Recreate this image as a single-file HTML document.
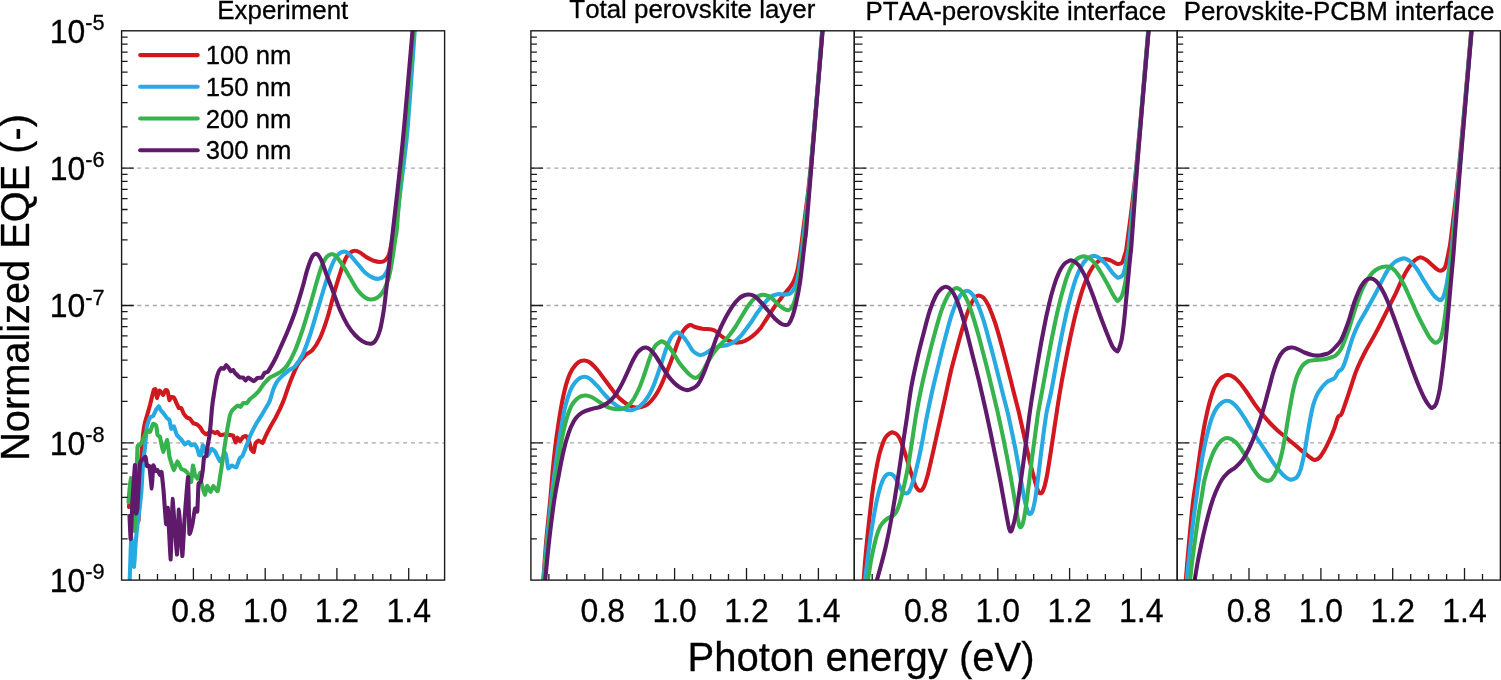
<!DOCTYPE html>
<html lang="en"><head><meta charset="utf-8"><title>Normalized EQE vs photon energy</title>
<style>
html,body{margin:0;padding:0;background:#fff;}
body{width:1501px;height:680px;overflow:hidden;}
svg{display:block;}
text{font-family:"Liberation Sans",sans-serif;fill:#000;font-kerning:none;stroke:#000;stroke-width:0.3px;}
.c{fill:none;stroke-width:4.1;stroke-linejoin:round;stroke-linecap:round;}
.fr{fill:none;stroke:#1c1a1b;stroke-width:1.4;}
.tk{stroke:#1c1a1b;stroke-width:1.3;fill:none;}
.gr{stroke:#a6a8ab;stroke-width:1.3;stroke-dasharray:4 3.82;fill:none;}
.ttl{font-size:25.88px;text-anchor:middle;}
.xl{font-size:33.3px;text-anchor:middle;}
.yl{font-size:33.3px;}
.sup{font-size:22.6px;}
.lg{font-size:25.65px;}
.ax{font-size:40px;}
</style></head><body>
<svg width="1501" height="680" viewBox="0 0 1501 680">
<rect x="0" y="0" width="1501" height="680" fill="#fff"/>
<defs>
<clipPath id="cp0"><rect x="121.6" y="30.8" width="323" height="549.3"/></clipPath>
<clipPath id="cp1"><rect x="530.9" y="30.8" width="323.4" height="549.3"/></clipPath>
<clipPath id="cp2"><rect x="854.3" y="30.8" width="322.9" height="549.3"/></clipPath>
<clipPath id="cp3"><rect x="1177.2" y="30.8" width="323.2" height="549.3"/></clipPath>
</defs>
<g>
<path class="gr" d="M121.6 168.1H444.6"/>
<path class="gr" d="M121.6 305.5H444.6"/>
<path class="gr" d="M121.6 442.8H444.6"/>
<g clip-path="url(#cp0)">
<path class="c" stroke="#d2181f" d="M129 507C129.1 506.4 129.8 498 130 497C130.2 496 131.7 489.8 132 490C132.3 490.2 134.6 498.2 135 500C135.4 501.8 138.2 522.8 138.5 521C138.8 519.2 140.2 475 140.5 470C140.8 465 142.7 437.8 143 435C143.3 432.2 144.7 423.7 145 422.5C145.3 421.3 147.2 414.8 147.5 413.8C147.8 412.7 149.8 405.8 150 405C150.2 404.2 151 400.9 151.2 400C151.5 399.1 153.5 390.6 153.8 390C154 389.4 155.4 388.9 155.6 389.4C155.8 389.9 156.7 397.9 156.9 398C157.1 398.1 159.1 390.9 159.4 390.6C159.7 390.3 161.7 392.7 161.9 393C162.1 393.3 162.9 395.2 163.1 395C163.3 394.8 165.3 390.2 165.6 390C165.9 389.8 167.3 390.4 167.5 391C167.7 391.6 169.2 399.6 169.4 400C169.6 400.4 171 397.1 171.2 397C171.5 396.9 173.5 397.2 173.8 397.5C174 397.8 176 401.9 176.2 402.5C176.5 403.1 178.5 407.7 178.8 408C179 408.3 181 407.7 181.2 408C181.5 408.3 183.4 413.2 183.8 413.8C184.1 414.3 186.5 417.2 186.9 417.5C187.3 417.8 189.6 418.4 190 418.8C190.4 419.1 192.7 422.7 193.1 423C193.5 423.3 196.5 424.1 196.9 424.4C197.3 424.7 200 427.1 200.3 427.5C200.6 427.9 202.2 430.8 202.5 431.2C202.8 431.7 205.7 434.4 206.2 434.4C206.8 434.4 210.7 431.3 211.2 431.2C211.8 431.2 214.6 433.1 215 433.1C215.4 433.1 217.2 431.8 217.5 431.9C217.8 432 219.6 434.9 220 435C220.4 435.1 224.4 434.4 225 434.4C225.6 434.4 229.5 434.9 230 435C230.5 435.1 232.8 435.2 233.1 435.6C233.4 436 235.3 442.4 235.6 442.5C235.9 442.6 237.2 437.6 237.5 437.5C237.8 437.4 239.7 441.3 240 441.2C240.3 441.2 242.7 437.2 243.1 436.9C243.5 436.6 245.9 435.9 246.2 436.2C246.6 436.6 249.1 441.7 249.4 442.5C249.7 443.3 251 448.9 251.2 449.4C251.5 449.9 253.5 452.3 253.8 451.9C254 451.5 255.3 443.8 255.6 443.1C255.9 442.4 258.3 440.6 258.8 440.6C259.2 440.6 262.1 443.3 262.5 443.1C262.9 442.9 264.6 438.4 265 437.5C265.4 436.6 269.4 428.6 270 427.5C270.6 426.4 274.4 419.8 275 418.8C275.6 417.7 279.5 409.8 280 408.8C280.5 407.7 282.1 404.4 283.8 400C285.4 395.6 287.7 388.3 290 382.5C292.3 376.7 295 369.5 297.5 365C300 360.5 302.5 358 305 355.5C307.5 353 310 352.9 312.5 350C315 347.1 317.5 343.4 320 338C322.5 332.6 325 325.5 327.5 317.5C330 309.5 332.7 297.9 335 290C337.3 282.1 339.4 275.4 341.2 270C343.1 264.6 344.6 260.5 346.2 257.5C347.9 254.5 349.8 253.1 351.2 252C352.7 250.9 353.5 250.7 355 250.8C356.5 250.8 358.1 251.5 360 252.5C361.9 253.5 364 255.6 366.2 257C368.5 258.4 371.5 259.9 373.8 260.8C376 261.6 378.1 262 380 262C381.9 262 383.5 261.7 385 260.5C386.5 259.3 387.7 257.6 388.8 255C389.8 252.4 390.4 249.2 391.2 245C392.1 240.8 392.2 242.8 393.8 230C395.3 217.2 398.9 185.5 400.8 168C402.7 150.5 403.1 147.8 405.2 125C407.3 102.2 412 48.3 413.5 31C415 13.7 414.2 22.7 414.4 21"/>
<path class="c" stroke="#27a9e1" d="M129.3 590C129.4 588.5 130.1 568.1 130.2 565C130.3 561.9 131.1 537.8 131.2 537C131.3 536.2 132.4 550.3 132.6 552C132.8 553.7 133.9 567.2 134.1 566.8C134.3 566.4 135.3 547.4 135.5 545C135.7 542.6 137.2 527.3 137.5 525C137.8 522.7 139.8 507 140 505C140.2 503 141.3 492.5 141.5 490C141.7 487.5 142.9 464.5 143.1 462C143.3 459.5 144.8 449.6 145 447.5C145.2 445.4 146.6 428 146.9 426.2C147.2 424.5 149.6 418.1 150 417.5C150.4 416.9 152.7 416.5 153.1 416C153.5 415.5 155.9 410.1 156.2 409.5C156.6 408.9 158.5 406 158.8 406C159 406 160.3 409.5 160.6 410C160.9 410.5 163.4 413.3 163.8 413.8C164.1 414.2 166.6 417.6 166.9 418C167.2 418.4 169.1 419.4 169.4 420C169.7 420.6 171 428.4 171.2 428.8C171.5 429.1 173.4 425.9 173.8 426.2C174.1 426.6 176.5 434.2 176.9 435C177.3 435.8 180.8 438.8 181.2 439.4C181.7 440 184.6 444.4 185 444.5C185.4 444.6 188.1 441.8 188.5 441.8C188.9 441.8 190.8 445.1 191.2 445.3C191.6 445.5 194.3 444.2 194.7 444.4C195.1 444.6 197.1 448.2 197.4 448.8C197.7 449.4 198.9 454.6 199.1 455C199.3 455.4 201.1 455.6 201.3 455C201.5 454.4 202.5 445.6 202.7 445.3C202.9 445 204.6 448.9 204.9 449.5C205.2 450.1 207.1 456 207.5 456C207.9 456 211.1 449.1 211.5 448.8C211.9 448.5 214.6 450.9 215 451.5C215.4 452.1 218.2 457.9 218.5 458.5C218.8 459.1 219.9 461.5 220.3 461.2C220.7 460.9 225.1 452.8 225.6 453.2C226.1 453.6 227.8 467.5 228.2 468.2C228.6 468.9 231.3 465.6 231.8 465.6C232.3 465.6 235.7 467.8 236.2 467.4C236.7 467 239.3 459.2 239.7 458.5C240.1 457.8 242 456.6 242.4 455.9C242.8 455.2 245.8 447.4 246.2 446.2C246.7 445.1 249.4 437.6 250 436.2C250.6 434.9 255.5 425.1 256.2 423.8C257 422.4 261.8 415 262.5 413.8C263.2 412.5 268.2 404 268.8 403C269.3 402 271 397 271.2 396.2C271.5 395.5 272.8 390.8 273.1 390C273.4 389.2 275.9 383.6 276.2 383C276.6 382.4 278.4 379.8 278.8 379.4C279.1 379 282.1 376 282.5 375.6C282.9 375.2 285.8 372.9 286.2 372.5C286.7 372.1 288.5 370.5 290 369.5C291.5 368.5 292.9 368.7 295 366.2C297.1 363.8 300 360.2 302.5 355C305 349.8 307.5 342.5 310 335C312.5 327.5 315 318.3 317.5 310C320 301.7 322.9 291.7 325 285C327.1 278.3 328.3 274.4 330 270C331.7 265.6 333.3 261.6 335 258.8C336.7 255.9 338.2 254.2 340 253C341.8 251.8 343.8 251.4 345.5 251.8C347.2 252.1 348 253 350 255C352 257 355 260.8 357.5 263.8C360 266.7 362.5 270.2 365 272.5C367.5 274.8 370.2 276.5 372.5 277.5C374.8 278.5 376.9 279 378.8 278.8C380.6 278.5 382.3 277.7 383.8 276.2C385.2 274.8 386.2 273.5 387.5 270C388.8 266.5 390.2 260 391.2 255C392.3 250 393 244.2 393.8 240C394.5 235.8 393.9 242 395.5 230C397.1 218 401.1 185.5 403.2 168C405.3 150.5 406 147.8 407.9 125C409.8 102.2 413.4 48.3 414.7 31C416 13.7 415.5 22.7 415.6 21"/>
<path class="c" stroke="#37b34d" d="M128.5 502C128.6 500.6 130.4 478.1 130.6 478C130.8 477.9 131.8 496.9 132 500C132.2 503.1 134.3 531.6 134.5 531C134.7 530.4 135.8 494.9 136 490C136.2 485.1 137.3 449.6 137.5 447C137.7 444.4 139.7 445.4 140 445C140.3 444.6 142.2 441.6 142.5 441C142.8 440.4 144.7 435.6 145 435C145.3 434.4 146.6 430.8 146.9 430.6C147.2 430.4 149.6 432.3 150 431.9C150.4 431.5 152.7 424.1 153.1 423.8C153.5 423.4 156 424.9 156.2 425.6C156.5 426.3 157.3 434.3 157.5 435C157.7 435.7 159.7 435.9 160 436.9C160.3 437.9 162.7 451.7 163.1 451.9C163.5 452.1 166.9 439.7 167.2 440C167.6 440.3 169 454.5 169.4 456.2C169.8 458 173.3 469.7 173.8 470C174.2 470.3 177.1 461.3 177.5 461.2C177.9 461.2 180.8 468.2 181.2 468.8C181.7 469.3 184.6 470.2 185 470.5C185.4 470.8 188.1 473.7 188.5 474.4C188.9 475.1 190.9 482.4 191.2 481.9C191.5 481.4 192.7 466 192.9 465.6C193.1 465.2 194.8 474.5 195.1 475.3C195.4 476.1 197.5 479 197.8 478.8C198.1 478.6 200.2 472.5 200.4 472.7C200.6 472.9 201 481.1 201.3 482.4C201.6 483.7 204.6 494.5 204.9 494.7C205.2 494.9 206.8 486.1 207.1 485.9C207.4 485.7 210.2 492.1 210.6 492.1C211 492.1 212.8 486 213.2 485.9C213.6 485.8 217.3 491.8 217.7 491.2C218.1 490.6 220 477.3 220.3 475.3C220.6 473.3 222.7 459.8 223 457.7C223.3 455.6 225.3 441.7 225.6 440C225.9 438.3 227.2 429.5 227.5 428C227.8 426.5 229.7 416.1 230 415C230.3 413.9 232.1 410.5 232.5 410C232.9 409.5 237 405.8 237.5 405.6C238 405.4 240.3 407 240.6 406.9C240.9 406.8 242.7 403.3 243.1 403.1C243.5 402.9 246.5 403.3 246.9 403.1C247.3 402.9 249.5 399.5 250 399C250.5 398.5 254.5 395.5 255 395C255.5 394.5 258.2 391.9 258.8 391.2C259.3 390.6 263.1 384.6 263.8 383.8C264.4 382.9 269.3 378 270 377.5C270.7 377 275.6 374.8 276.2 374.4C276.9 374 280.6 372 281.2 371.5C281.9 371 285.2 368.5 287.5 365C289.8 361.5 292.5 356.3 295 350.5C297.5 344.7 300 337.5 302.5 330C305 322.5 307.7 313.2 310 305.5C312.3 297.8 314.4 290.1 316.2 283.8C318.1 277.4 319.6 271.9 321.2 267.5C322.9 263.1 324.6 259.7 326.2 257.5C327.9 255.3 329.6 254.5 331.2 254.2C332.9 254 334.4 254.5 336.2 256.2C338.1 258 340.2 261.5 342.5 265C344.8 268.5 347.5 273.3 350 277.5C352.5 281.7 355 286.7 357.5 290C360 293.3 362.7 295.9 365 297.5C367.3 299.1 369.2 299.5 371.2 299.5C373.3 299.5 375.6 298.7 377.5 297.5C379.4 296.3 381 294.6 382.5 292.5C384 290.4 385 288.3 386.2 285C387.5 281.7 388.9 277.5 390 272.5C391.1 267.5 392.1 260.8 393 255C393.9 249.2 394.8 242.2 395.5 237.5C396.2 232.8 396 238.6 397 227C398 215.4 400.2 185 401.7 168C403.2 151 403.9 147.8 405.8 125C407.7 102.2 411.9 48.3 413.3 31C414.7 13.7 414.1 22.7 414.2 21"/>
<path class="c" stroke="#5f1a6b" d="M129.5 516C129.6 517.3 130.5 539.9 130.7 539C130.9 538.1 132.2 504.3 132.5 500C132.8 495.7 134.8 464.2 135 465C135.2 465.8 135.9 510.6 136 513C136.1 515.5 137.3 509.9 137.5 507C137.7 504.1 139.7 466.7 140 464C140.3 461.3 141.6 460.4 141.9 460C142.2 459.6 145.3 456.5 145.6 456.9C145.9 457.2 146.7 465.5 146.9 466C147.1 466.5 149.1 464.9 149.4 466.2C149.7 467.6 151.6 488.6 151.8 488.5C152 488.4 153 466.3 153.2 465.3C153.4 464.3 155.3 470.7 155.6 471C155.9 471.3 157.2 469.8 157.5 470C157.8 470.2 159.8 474.9 160 475C160.2 475.1 161.3 471.1 161.5 472C161.7 472.9 163.2 487 163.5 490C163.8 493 165.8 523 166.1 524C166.4 525 167.5 505.9 167.8 508C168.1 510.1 170.4 560 170.7 559.5C171 559 172.1 499.3 172.5 499C172.9 498.7 176.5 553.9 176.9 554.5C177.3 555.1 178.6 509.4 178.9 509.5C179.2 509.6 182 555.4 182.3 556C182.6 556.6 184.2 524.6 184.5 520C184.8 515.4 187.8 476.2 188.1 477C188.4 477.8 189.1 530.8 189.4 533.5C189.7 536.2 192.2 525.2 192.5 523.8C192.8 522.3 194.7 509.2 195 508.5C195.3 507.8 197.1 512.9 197.3 511.5C197.5 510.1 198.3 485.7 198.5 484C198.7 482.3 200.5 482.8 200.7 482C200.9 481.2 202.5 472.3 202.7 470.9C202.9 469.5 203.8 458.6 204 457.7C204.2 456.8 206 456.7 206.2 455.9C206.4 455.1 207.7 445.5 207.9 444.4C208.1 443.3 209.1 438.1 209.3 437C209.5 435.9 210.4 426.7 210.6 425C210.8 423.3 211.8 409.8 212 408C212.2 406.2 213.5 396.6 213.8 395C214 393.4 216 381.4 216.2 380C216.5 378.6 218.5 371.9 218.8 371.2C219 370.6 221 368.1 221.2 368C221.5 367.9 223.5 368.9 223.8 368.8C224 368.6 226 365 226.2 365C226.5 365 228.5 367.6 228.8 368C229 368.4 230.3 371.1 230.6 371.2C230.9 371.4 232.8 369.9 233.1 370C233.4 370.1 234.6 372.6 235 373C235.4 373.4 239.5 377.2 240 377.5C240.5 377.8 242.8 377.3 243.1 377.5C243.4 377.7 245.3 380.6 245.6 380.6C245.9 380.6 247.6 377.5 248.1 377.5C248.6 377.5 253.2 381.2 253.8 381.2C254.3 381.3 257 378.2 257.5 378C258 377.8 261.5 377.8 261.9 377.5C262.3 377.2 264.1 373.3 264.4 373C264.7 372.7 267.1 372.4 267.5 372C267.9 371.6 270.7 367.1 271.2 366.2C271.8 365.4 275.7 358 276.2 357C276.8 356 278.1 352.8 280 348.5C281.9 344.2 285 337.6 287.5 331.5C290 325.4 292.5 319.3 295 312C297.5 304.7 300.4 294.7 302.5 287.5C304.6 280.3 305.8 274.2 307.5 269C309.2 263.8 310.9 258.7 312.5 256.2C314.1 253.8 315.5 253.6 317 254.2C318.5 254.9 319.7 256.8 321.2 260C322.8 263.2 324.4 268.8 326.2 273.8C328.1 278.8 330.2 284 332.5 290C334.8 296 337.5 304.2 340 310C342.5 315.8 345 320.8 347.5 325C350 329.2 352.5 332.3 355 335C357.5 337.7 360 339.8 362.5 341.2C365 342.7 367.9 343.8 370 343.8C372.1 343.8 373.3 343.5 375 341.2C376.7 339 378.5 335.2 380 330C381.5 324.8 382.7 316.7 383.8 310C384.8 303.3 385.4 297.1 386.2 290C387.1 282.9 387.9 275 388.8 267.5C389.6 260 390.5 251.2 391.2 245C392 238.8 391.5 242.8 393 230C394.5 217.2 398.1 185.5 400 168C401.9 150.5 402.2 147.8 404.3 125C406.4 102.2 411 48.3 412.5 31C414 13.7 413.2 22.7 413.4 21"/>
</g>
<path class="tk" d="M121.6 126.8h6M121.6 102.6h6M121.6 85.4h6M121.6 72.1h6M121.6 61.3h6M121.6 52.1h6M121.6 44.1h6M121.6 37.1h6M121.6 264.1h6M121.6 239.9h6M121.6 222.8h6M121.6 209.5h6M121.6 198.6h6M121.6 189.4h6M121.6 181.4h6M121.6 174.4h6M121.6 168.1h12.2M121.6 401.4h6M121.6 377.3h6M121.6 360.1h6M121.6 346.8h6M121.6 335.9h6M121.6 326.7h6M121.6 318.8h6M121.6 311.7h6M121.6 305.5h12.2M121.6 538.8h6M121.6 514.6h6M121.6 497.4h6M121.6 484.1h6M121.6 473.2h6M121.6 464h6M121.6 456.1h6M121.6 449.1h6M121.6 442.8h12.2M139.5 580.1v-6M157.5 580.1v-6M175.4 580.1v-6M193.4 580.1v-12M211.3 580.1v-6M229.3 580.1v-6M247.2 580.1v-6M265.2 580.1v-12M283.1 580.1v-6M301 580.1v-6M319 580.1v-6M336.9 580.1v-12M354.9 580.1v-6M372.8 580.1v-6M390.8 580.1v-6M408.7 580.1v-12M426.7 580.1v-6"/>
<rect class="fr" x="121.6" y="30.8" width="323" height="549.3"/>
<text class="xl" transform="translate(193.4 622.1) scale(.96 1)">0.8</text>
<text class="xl" transform="translate(265.2 622.1) scale(.96 1)">1.0</text>
<text class="xl" transform="translate(336.9 622.1) scale(.96 1)">1.2</text>
<text class="xl" transform="translate(408.7 622.1) scale(.96 1)">1.4</text>
<text class="ttl" x="282.8" y="18.5">Experiment</text>
</g>
<g>
<path class="gr" d="M530.9 168.1H854.3"/>
<path class="gr" d="M530.9 305.5H854.3"/>
<path class="gr" d="M530.9 442.8H854.3"/>
<g clip-path="url(#cp1)">
<path class="c" stroke="#d2181f" d="M542 592C542.2 590 542.6 588.7 543.3 580C544 571.3 545.1 553.3 546.3 540C547.4 526.7 549 513.3 550.2 500C551.4 486.7 552.5 471.7 553.8 460C555 448.3 556 440 557.5 430C559 420 560.8 408.3 562.5 400C564.2 391.7 565.8 385.2 567.5 380C569.2 374.8 570.6 371.8 572.5 368.8C574.4 365.8 576.8 363.4 578.8 362C580.8 360.6 582.6 360.4 584.5 360.5C586.4 360.6 587.8 360.9 590 362.5C592.2 364.1 595 367.1 597.5 370C600 372.9 602.5 376.7 605 380C607.5 383.3 610 386.9 612.5 390C615 393.1 617.5 396.3 620 398.8C622.5 401.2 625 403 627.5 404.5C630 406 632.7 407.1 635 407.5C637.3 407.9 639.2 407.5 641.2 407C643.3 406.5 645.2 406.3 647.5 404.5C649.8 402.7 652.7 399.5 655 396.2C657.3 393 659.2 389.4 661.2 385C663.3 380.6 665.4 375.2 667.5 370C669.6 364.8 671.9 358.8 673.8 353.8C675.6 348.8 677.1 344 678.8 340C680.4 336 681.9 332.5 683.8 330C685.6 327.5 688.1 325.5 690 325C691.9 324.5 692.9 326.4 695 327C697.1 327.6 700 328.4 702.5 328.8C705 329.1 707.9 328.9 710 329.2C712.1 329.6 713.3 329.8 715 330.8C716.7 331.7 718.1 333.5 720 335C721.9 336.5 724.2 338.3 726.2 339.5C728.3 340.7 730.4 341.5 732.5 342C734.6 342.5 736.7 342.7 738.8 342.5C740.8 342.3 742.7 341.8 745 340.8C747.3 339.7 750 338.2 752.5 336.2C755 334.2 757.5 331.9 760 328.8C762.5 325.6 765 321.2 767.5 317.5C770 313.8 772.5 309.8 775 306.2C777.5 302.7 780.2 299.2 782.5 296.2C784.8 293.3 786.9 291.2 788.8 288.8C790.6 286.2 792.3 284.4 793.8 281.2C795.2 278.1 796.5 274.4 797.5 270C798.5 265.6 799.2 260 800 255C800.8 250 801.5 244.2 802 240C802.5 235.8 801.8 242 803.2 230C804.7 218 807.5 201.2 810.7 168C813.9 134.8 820.2 55.5 822.2 31C824.2 6.5 822.9 22.7 823 21"/>
<path class="c" stroke="#27a9e1" d="M542.2 592C542.4 590 542.6 588.7 543.4 580C544.2 571.3 545.7 553.3 547 540C548.3 526.7 549.9 511.7 551.2 500C552.6 488.3 553.5 480.8 555 470C556.5 459.2 558.3 445.4 560 435C561.7 424.6 563.3 414.8 565 407.5C566.7 400.2 568.3 395.4 570 391.2C571.7 387.1 573.3 384.7 575 382.5C576.7 380.3 578.3 379 580 378C581.7 377 583.3 376.6 585 376.8C586.7 376.9 587.9 377.2 590 378.8C592.1 380.3 595 383.5 597.5 386.2C600 389 602.5 392.3 605 395C607.5 397.7 610 400.4 612.5 402.5C615 404.6 617.5 406.2 620 407.5C622.5 408.8 625.4 409.6 627.5 410C629.6 410.4 630.4 410.6 632.5 410C634.6 409.4 637.5 408.3 640 406.2C642.5 404.2 645.2 401 647.5 397.5C649.8 394 651.7 390 653.8 385C655.8 380 657.9 373.5 660 367.5C662.1 361.5 664.4 353.8 666.2 348.8C668.1 343.8 669.6 340.2 671.2 337.5C672.9 334.8 674.6 333 676.2 332.5C677.9 332 679.4 332.8 681.2 334.5C683.1 336.2 685.6 339.8 687.5 342.5C689.4 345.2 690.8 348.5 692.5 350.5C694.2 352.5 696 353.5 697.5 354.2C699 355 699.8 355.2 701.2 355C702.7 354.8 704.4 354 706.2 353C708.1 352 710.2 349.9 712.5 348.8C714.8 347.6 717.5 346.9 720 346.2C722.5 345.6 725 345.8 727.5 345C730 344.2 732.5 343.1 735 341.2C737.5 339.4 740 336.7 742.5 333.8C745 330.8 747.5 327.3 750 323.8C752.5 320.2 755 316 757.5 312.5C760 309 762.7 305.2 765 302.5C767.3 299.8 769.2 297.6 771.2 296.2C773.3 294.9 775.4 294.5 777.5 294.2C779.6 294 781.9 294.5 783.8 294.5C785.6 294.5 787.3 294.5 788.8 294C790.2 293.5 791.2 293 792.5 291.2C793.8 289.5 795.2 286.9 796.2 283.8C797.3 280.6 797.9 277.3 798.8 272.5C799.6 267.7 800.5 260.4 801.2 255C802 249.6 802.5 244.2 803 240C803.5 235.8 802.9 242 804.2 230C805.6 218 807.9 201.2 810.9 168C813.9 134.8 820.3 55.5 822.3 31C824.3 6.5 823 22.7 823.1 21"/>
<path class="c" stroke="#37b34d" d="M542.8 592C543 590 543.1 588.7 544 580C544.9 571.3 546.6 553.3 548 540C549.4 526.7 551.1 510.8 552.5 500C553.9 489.2 554.8 484.6 556.2 475C557.7 465.4 559.6 451.7 561.2 442.5C562.9 433.3 564.6 426 566.2 420C567.9 414 569.6 409.7 571.2 406.2C572.9 402.8 574.6 401.2 576.2 399.5C577.9 397.8 579.6 396.9 581.2 396.2C582.9 395.6 584.4 395.3 586.2 395.5C588.1 395.7 590.2 396.3 592.5 397.5C594.8 398.7 597.5 400.9 600 402.5C602.5 404.1 605 405.9 607.5 407C610 408.1 612.7 408.7 615 409C617.3 409.3 619.2 409.5 621.2 409C623.3 408.5 625.4 408 627.5 406.2C629.6 404.5 631.7 402.1 633.8 398.8C635.8 395.4 638.1 390.6 640 386.2C641.9 381.9 643.3 377.3 645 372.5C646.7 367.7 648.3 361.9 650 357.5C651.7 353.1 653.3 348.8 655 346.2C656.7 343.7 658.8 342.8 660 342C661.2 341.2 661.2 341 662.5 341.5C663.8 342 665.6 343 667.5 345C669.4 347 671.7 350.6 673.8 353.8C675.8 356.9 677.9 360.8 680 363.8C682.1 366.7 684.6 369.4 686.2 371.2C687.9 373.1 688.8 374 690 375C691.2 376 692.6 377.1 693.8 377.5C694.9 377.9 695.8 378.1 697 377.5C698.2 376.9 699.5 376.2 701.2 373.8C703 371.2 705.4 366 707.5 362.5C709.6 359 711.7 355.4 713.8 352.5C715.8 349.6 717.7 347.5 720 345C722.3 342.5 725 340.4 727.5 337.5C730 334.6 732.5 331.2 735 327.5C737.5 323.8 740.2 318.8 742.5 315C744.8 311.2 746.7 307.8 748.8 305C750.8 302.2 752.9 299.7 755 298C757.1 296.3 759.6 295.5 761.2 295C762.9 294.5 763.3 294.6 765 295C766.7 295.4 769.2 296 771.2 297.5C773.3 299 775.4 301.9 777.5 303.8C779.6 305.6 781.9 307.7 783.8 308.8C785.6 309.8 787.3 310.4 788.8 310C790.2 309.6 791.2 308.8 792.5 306.2C793.8 303.8 795.1 299.8 796.2 295C797.4 290.2 798.5 283.8 799.5 277.5C800.5 271.2 801.3 263.3 802 257.5C802.7 251.7 803.2 247.1 803.8 242.5C804.2 237.9 803.8 242.4 805 230C806.2 217.6 808.1 201.2 811 168C813.9 134.8 820.4 55.5 822.4 31C824.4 6.5 823.1 22.7 823.2 21"/>
<path class="c" stroke="#5f1a6b" d="M543.8 592C544 590 544.3 588.7 545.2 580C546.1 571.3 547.7 553.3 549.2 540C550.7 526.7 552.7 510.8 554.3 500C555.9 489.2 557.2 483.3 558.8 475C560.3 466.7 562.1 457.1 563.8 450C565.4 442.9 567.1 437.3 568.8 432.5C570.4 427.7 572.1 424.2 573.8 421.2C575.4 418.3 576.9 416.7 578.8 415C580.6 413.3 582.7 412.3 585 411.2C587.3 410.2 590 409.5 592.5 408.8C595 408 597.5 408 600 407C602.5 406 605.2 404.7 607.5 403C609.8 401.3 611.7 399.6 613.8 397C615.8 394.4 617.9 391.2 620 387.5C622.1 383.8 624.2 379.4 626.2 375C628.3 370.6 630.6 365 632.5 361.2C634.4 357.5 635.8 354.7 637.5 352.5C639.2 350.3 641.1 349.1 642.5 348.2C643.9 347.4 644.5 347.3 645.8 347.5C647 347.7 648.5 348.2 650 349.5C651.5 350.8 653.1 352.4 655 355C656.9 357.6 659.2 361.7 661.2 365C663.3 368.3 665.4 372.1 667.5 375C669.6 377.9 671.7 380.4 673.8 382.5C675.8 384.6 677.9 386.2 680 387.5C682.1 388.8 684.6 389.7 686.2 390C687.9 390.3 688.3 390.1 690 389.5C691.7 388.9 694.6 387.6 696.2 386.2C697.9 384.9 698.5 384 700 381.2C701.5 378.5 703.1 374.8 705 370C706.9 365.2 709.2 358.3 711.2 352.5C713.3 346.7 715.2 340.6 717.5 335C719.8 329.4 722.5 323.5 725 318.8C727.5 314 730.2 309.6 732.5 306.2C734.8 302.9 736.9 300.5 738.8 298.8C740.6 297 742.1 296.2 743.8 295.5C745.4 294.8 747.1 294.5 748.8 294.5C750.4 294.5 751.9 294.6 753.8 295.8C755.6 296.9 757.7 298.9 760 301.2C762.3 303.6 765 307.1 767.5 310C770 312.9 772.7 316.5 775 318.8C777.3 321 779.6 322.7 781.2 323.8C782.9 324.8 783.8 325 785 325C786.2 325 787.5 325.2 788.8 323.8C790 322.3 791.2 319.8 792.5 316.2C793.8 312.7 795 308.1 796.2 302.5C797.5 296.9 798.9 290 800 282.5C801.1 275 802.2 264.6 803 257.5C803.8 250.4 804.5 244.6 805 240C805.5 235.4 805.2 242 806.2 230C807.3 218 808.5 201.2 811.2 168C813.9 134.8 820.6 55.5 822.6 31C824.6 6.5 823.3 22.7 823.4 21"/>
</g>
<path class="tk" d="M530.9 126.8h6M530.9 102.6h6M530.9 85.4h6M530.9 72.1h6M530.9 61.3h6M530.9 52.1h6M530.9 44.1h6M530.9 37.1h6M530.9 264.1h6M530.9 239.9h6M530.9 222.8h6M530.9 209.5h6M530.9 198.6h6M530.9 189.4h6M530.9 181.4h6M530.9 174.4h6M530.9 168.1h12.2M530.9 401.4h6M530.9 377.3h6M530.9 360.1h6M530.9 346.8h6M530.9 335.9h6M530.9 326.7h6M530.9 318.8h6M530.9 311.7h6M530.9 305.5h12.2M530.9 538.8h6M530.9 514.6h6M530.9 497.4h6M530.9 484.1h6M530.9 473.2h6M530.9 464h6M530.9 456.1h6M530.9 449.1h6M530.9 442.8h12.2M548.9 580.1v-6M566.8 580.1v-6M584.8 580.1v-6M602.8 580.1v-12M620.7 580.1v-6M638.7 580.1v-6M656.7 580.1v-6M674.6 580.1v-12M692.6 580.1v-6M710.6 580.1v-6M728.5 580.1v-6M746.5 580.1v-12M764.5 580.1v-6M782.4 580.1v-6M800.4 580.1v-6M818.4 580.1v-12M836.3 580.1v-6"/>
<rect class="fr" x="530.9" y="30.8" width="323.4" height="549.3"/>
<text class="xl" transform="translate(602.8 622.1) scale(.96 1)">0.8</text>
<text class="xl" transform="translate(674.6 622.1) scale(.96 1)">1.0</text>
<text class="xl" transform="translate(746.5 622.1) scale(.96 1)">1.2</text>
<text class="xl" transform="translate(818.4 622.1) scale(.96 1)">1.4</text>
<text class="ttl" x="692.3" y="18.3">Total perovskite layer</text>
</g>
<g>
<path class="gr" d="M854.3 168.1H1177.2"/>
<path class="gr" d="M854.3 305.5H1177.2"/>
<path class="gr" d="M854.3 442.8H1177.2"/>
<g clip-path="url(#cp2)">
<path class="c" stroke="#d2181f" d="M862.7 592C862.9 590 863.2 585.8 863.7 580C864.2 574.2 864.6 566.7 865.5 557C866.4 547.3 867.8 532.8 869 522C870.2 511.2 871.3 500.8 872.5 492C873.7 483.2 875 476.2 876.2 469.5C877.5 462.8 878.5 457.2 880 452C881.5 446.8 883.3 441.4 885 438.2C886.7 435.1 888.7 434.2 890 433.2C891.3 432.3 891.8 432.2 893 432.5C894.2 432.8 896.1 433.4 897.5 435C898.9 436.6 899.8 438.3 901.2 442C902.7 445.7 904.6 451.8 906.2 457C907.9 462.2 909.7 468.5 911.2 473.2C912.8 478 914 482.8 915.5 485.8C917 488.7 918.6 490.5 920 490.8C921.4 491 922.5 489.5 923.8 487C925 484.5 926 481.2 927.5 475.8C929 470.3 930.8 461.8 932.5 454.5C934.2 447.2 936 438.8 937.5 432C939 425.2 940.1 420.2 941.5 414C942.9 407.8 944.1 402.3 945.7 395C947.3 387.7 949.3 378.1 951.2 370C953.2 361.9 955.4 354 957.5 346.2C959.6 338.5 961.7 330.4 963.8 323.8C965.8 317.1 968.1 310.6 970 306.2C971.9 301.9 973.5 299.3 975 297.5C976.5 295.7 977.3 295.4 978.8 295.5C980.2 295.6 982.1 296.2 983.8 298C985.4 299.8 986.9 302.2 988.8 306.2C990.6 310.3 992.9 316.2 995 322.5C997.1 328.8 999.2 336.2 1001.2 343.8C1003.3 351.2 1005.4 359.4 1007.5 367.5C1009.6 375.6 1011.9 385.1 1013.8 392.5C1015.6 399.9 1017.1 405 1018.8 412C1020.4 419 1022.1 427 1023.8 434.5C1025.4 442 1027.1 449.9 1028.8 457C1030.4 464.1 1032.3 471.6 1033.8 477C1035.2 482.4 1036.5 486.8 1037.5 489.5C1038.5 492.2 1039.1 493 1040 493.2C1040.9 493.5 1042 493 1043 490.8C1044 488.5 1045.1 485.1 1046.2 479.5C1047.4 473.9 1048.8 464.9 1050 457C1051.2 449.1 1052.7 439.2 1053.8 432C1054.8 424.8 1055.5 420.8 1056.5 414C1057.5 407.2 1058.6 399.8 1060 391.5C1061.4 383.2 1063.3 372.8 1065 364C1066.7 355.2 1068.3 346.9 1070 339C1071.7 331.1 1073.3 323.4 1075 316.5C1076.7 309.6 1078.3 303.4 1080 297.8C1081.7 292.1 1083.3 287.1 1085 282.8C1086.7 278.4 1088.3 274.6 1090 271.5C1091.7 268.4 1093.3 265.9 1095 264C1096.7 262.1 1098.4 261.1 1100 260.2C1101.6 259.4 1102.8 259 1104.5 259C1106.2 259 1108.2 259.6 1110 260.2C1111.8 260.9 1113.5 262.1 1115 262.8C1116.5 263.4 1117.5 264.1 1118.8 264C1120 263.9 1121.5 263.7 1122.5 262C1123.5 260.3 1124.2 257 1125 254C1125.8 251 1125.1 258.3 1127 244C1128.9 229.7 1132.7 203.5 1136.2 168C1139.7 132.5 1146.1 55.5 1148.2 31C1150.3 6.5 1148.9 22.7 1149 21"/>
<path class="c" stroke="#27a9e1" d="M864 592C864.2 590 864.4 585.4 865 580C865.6 574.6 866.5 567.5 867.5 559.5C868.5 551.5 870 540.3 871.2 532C872.5 523.7 873.8 516.2 875 509.5C876.2 502.8 877.5 496.8 878.8 492C880 487.2 881.2 483.6 882.5 480.8C883.8 477.9 885 476.2 886.2 475C887.5 473.8 888.8 473.6 890 473.8C891.2 473.9 892.5 474.4 893.8 475.8C895 477.1 896.2 479.7 897.5 482C898.8 484.3 900 487.6 901.2 489.5C902.5 491.4 903.8 492.8 905 493.2C906.2 493.7 907.5 493.7 908.8 492C910 490.3 911.2 487 912.5 483.2C913.8 479.5 914.8 475.5 916.2 469.5C917.7 463.5 919.6 455.2 921.2 447C922.9 438.8 924.4 429.5 926.2 420C928.1 410.5 930.4 399.4 932.5 390C934.6 380.6 936.7 372.3 938.8 363.8C940.8 355.2 942.9 346.7 945 338.8C947.1 330.8 949.2 322.7 951.2 316.2C953.3 309.8 955.6 303.9 957.5 300C959.4 296.1 960.9 294.5 962.5 293C964.1 291.5 965.3 290.5 967 290.8C968.7 291 970.8 292.3 972.5 294.5C974.2 296.7 975.6 299.3 977.5 303.8C979.4 308.2 981.7 314.6 983.8 321.2C985.8 327.9 987.9 336 990 343.8C992.1 351.5 994.2 359.4 996.2 367.5C998.3 375.6 1000.4 384.2 1002.5 392.5C1004.6 400.8 1006.7 408.4 1008.8 417.5C1010.8 426.6 1013.1 437.5 1015 447C1016.9 456.5 1018.4 465.8 1020 474.5C1021.6 483.2 1023.2 493.5 1024.5 499.5C1025.8 505.5 1026.7 508.3 1027.5 510.8C1028.3 513.2 1028.7 514 1029.5 514C1030.3 514 1031.5 513.6 1032.5 510.8C1033.5 507.9 1034.5 503.5 1035.5 497C1036.5 490.5 1037.6 481.2 1038.8 472C1039.9 462.8 1041.2 451.8 1042.5 442C1043.8 432.2 1045 421.4 1046.5 413C1048 404.6 1049.6 399.7 1051.2 391.5C1052.9 383.3 1054.6 373 1056.2 364C1057.9 355 1059.6 346.1 1061.2 337.8C1062.9 329.4 1064.6 321.3 1066.2 314C1067.9 306.7 1069.6 300 1071.2 294C1072.9 288 1074.6 282.3 1076.2 277.8C1077.9 273.2 1079.6 269.5 1081.2 266.5C1082.9 263.5 1084.6 261.2 1086.2 259.5C1087.9 257.8 1089.8 257.1 1091.2 256.5C1092.7 255.9 1093.5 255.7 1095 256C1096.5 256.3 1098.1 257.1 1100 258.5C1101.9 259.9 1104.2 262.1 1106.2 264.5C1108.3 266.9 1110.5 270.5 1112.5 272.8C1114.5 275 1117.6 277.6 1118 277.8C1118.4 277.9 1121.3 276.9 1122.5 275.2C1123.7 273.6 1124.2 271.3 1125 267.8C1125.8 264.2 1126.8 258 1127.5 254C1128.2 250 1127.5 258.3 1129 244C1130.5 229.7 1133.3 203.5 1136.5 168C1139.7 132.5 1146.3 55.5 1148.4 31C1150.5 6.5 1149.1 22.7 1149.2 21"/>
<path class="c" stroke="#37b34d" d="M866.5 592C866.8 590 867.2 585.4 868 580C868.8 574.6 870.1 565.8 871.2 559.5C872.4 553.2 873.8 547 875 542C876.2 537 877.5 532.7 878.8 529.5C880 526.3 881 524.8 882.5 523C884 521.2 885.8 519.7 887.5 518.5C889.2 517.3 891 517.1 892.5 516C894 514.9 895 514.3 896.2 512C897.5 509.7 898.8 506.2 900 502C901.2 497.8 902.5 492.4 903.8 487C905 481.6 906.2 476.2 907.5 469.5C908.8 462.8 909.8 456.2 911.2 447C912.7 437.8 914.4 424.8 916.2 414C918.1 403.2 920.4 392.1 922.5 382.5C924.6 372.9 926.7 364.6 928.8 356.2C930.8 347.9 932.9 340 935 332.5C937.1 325 939.2 317.3 941.2 311.2C943.3 305.2 945.6 299.8 947.5 296.2C949.4 292.7 950.9 291.4 952.5 290C954.1 288.6 955.3 287.7 957 288C958.7 288.3 960.8 289.8 962.5 292C964.2 294.2 965.8 297.4 967.5 301.2C969.2 305.1 970.6 309.2 972.5 315C974.4 320.8 976.7 328.8 978.8 336.2C980.8 343.8 982.9 351.9 985 360C987.1 368.1 989.2 376.4 991.2 385C993.3 393.6 995.6 403.2 997.5 411.5C999.4 419.8 1000.8 426.5 1002.5 434.5C1004.2 442.5 1005.8 450.8 1007.5 459.5C1009.2 468.2 1011 478.7 1012.5 487C1014 495.3 1015.2 503.7 1016.2 509.5C1017.2 515.3 1017.9 519.1 1018.5 522C1019.1 524.9 1019.1 526.6 1019.8 527C1020.4 527.4 1021.5 527.4 1022.5 524.5C1023.5 521.6 1024.5 516.2 1025.5 509.5C1026.5 502.8 1027.6 493.7 1028.8 484.5C1029.9 475.3 1031.2 464.1 1032.5 454.5C1033.8 444.9 1035.3 433.9 1036.2 427C1037.2 420.1 1037.1 419.3 1038.1 413C1039.1 406.7 1040.9 397.6 1042.5 389C1044.1 380.4 1045.8 370.5 1047.5 361.5C1049.2 352.5 1050.8 343.6 1052.5 335.2C1054.2 326.9 1055.8 318.8 1057.5 311.5C1059.2 304.2 1060.8 297.5 1062.5 291.5C1064.2 285.5 1065.8 279.8 1067.5 275.2C1069.2 270.8 1070.8 267.3 1072.5 264.5C1074.2 261.7 1075.8 259.8 1077.5 258.5C1079.2 257.2 1081.2 256.8 1082.5 256.5C1083.8 256.2 1083.8 256.2 1085 256.5C1086.2 256.8 1088.1 257 1090 258.5C1091.9 260 1094.2 262.5 1096.2 265.2C1098.3 268 1100.4 271.7 1102.5 275.2C1104.6 278.8 1106.9 283 1108.8 286.5C1110.6 290 1112.3 293.6 1113.8 296C1115.2 298.4 1117.2 301 1117.5 301C1117.8 301 1120.5 298.8 1121.8 296C1123 293.2 1124 288.9 1125 284C1126 279.1 1126.8 271.9 1127.5 266.5C1128.2 261.1 1129 255.2 1129.5 251.5C1130 247.8 1129.3 257.9 1130.5 244C1131.7 230.1 1133.8 203.5 1136.8 168C1139.8 132.5 1146.4 55.5 1148.5 31C1150.6 6.5 1149.2 22.7 1149.3 21"/>
<path class="c" stroke="#5f1a6b" d="M874 592C874.5 590 875.8 584.6 877 580C878.2 575.4 879.7 570.4 881.2 564.5C882.8 558.6 884.6 552 886.2 544.5C887.9 537 889.6 528.7 891.2 519.5C892.9 510.3 894.8 498.7 896.2 489.5C897.7 480.3 898.8 472.8 900 464.5C901.2 456.2 902.3 447.9 903.5 440C904.7 432.1 905.7 425.8 907 417C908.3 408.2 909.5 397.4 911.2 387.5C913 377.6 915.4 366.7 917.5 357.5C919.6 348.3 921.7 340.4 923.8 332.5C925.8 324.6 927.9 316.2 930 310C932.1 303.8 934.4 298.5 936.2 295C938.1 291.5 939.6 290.1 941.2 288.8C942.9 287.4 944.6 286.5 946.2 286.8C947.9 287 949.6 288 951.2 290C952.9 292 954.6 295 956.2 298.8C957.9 302.5 959.6 307.3 961.2 312.5C962.9 317.7 964.4 322.9 966.2 330C968.1 337.1 970.4 346.7 972.5 355C974.6 363.3 976.7 371.3 978.8 380C980.8 388.7 983.1 398.7 985 407C986.9 415.3 988.3 422.1 990 430C991.7 437.9 993.3 446.2 995 454.5C996.7 462.8 998.3 470.8 1000 479.5C1001.7 488.2 1003.5 499.1 1005 507C1006.5 514.9 1007.8 522.9 1008.8 527C1009.7 531.1 1009.9 531.3 1010.5 531.5C1011.1 531.7 1011.5 531.5 1012.5 528.2C1013.5 525 1015 518.9 1016.2 512C1017.5 505.1 1018.8 495.8 1020 487C1021.2 478.2 1022.6 468.2 1023.8 459.5C1024.9 450.8 1026 442.2 1027 434.5C1028 426.8 1028.6 421 1029.7 413C1030.8 405 1032.2 395.9 1033.8 386.5C1035.3 377.1 1037.1 366.1 1038.8 356.5C1040.4 346.9 1042.1 337.5 1043.8 329C1045.4 320.5 1047.1 312.3 1048.8 305.2C1050.4 298.2 1052.1 291.9 1053.8 286.5C1055.4 281.1 1057.1 276.4 1058.8 272.8C1060.4 269.1 1062.1 266.5 1063.8 264.5C1065.4 262.5 1067.4 261.7 1068.8 261C1070.1 260.3 1070.5 260.2 1071.8 260.5C1073 260.8 1074.7 261.3 1076.2 262.8C1077.8 264.2 1079.4 265.9 1081.2 269C1083.1 272.1 1085.4 276.7 1087.5 281.5C1089.6 286.3 1091.7 292.1 1093.8 297.8C1095.8 303.4 1097.9 309.6 1100 315.2C1102.1 320.9 1104.2 326.3 1106.2 331.5C1108.3 336.7 1110.6 343.2 1112.5 346.5C1114.4 349.8 1117.1 351.7 1117.5 351.5C1117.9 351.3 1120.2 346.1 1121.2 341.5C1122.3 336.9 1122.9 331.1 1123.8 324C1124.6 316.9 1125.4 307.8 1126.2 299C1127.1 290.2 1128 279.4 1128.8 271.5C1129.5 263.6 1130.3 256.1 1130.8 251.5C1131.2 246.9 1130.5 257.9 1131.5 244C1132.5 230.1 1134.2 203.5 1137 168C1139.8 132.5 1146.5 55.5 1148.6 31C1150.7 6.5 1149.3 22.7 1149.4 21"/>
</g>
<path class="tk" d="M854.3 126.8h8.2M854.3 102.6h8.2M854.3 85.4h8.2M854.3 72.1h8.2M854.3 61.3h8.2M854.3 52.1h8.2M854.3 44.1h8.2M854.3 37.1h8.2M854.3 264.1h8.2M854.3 239.9h8.2M854.3 222.8h8.2M854.3 209.5h8.2M854.3 198.6h8.2M854.3 189.4h8.2M854.3 181.4h8.2M854.3 174.4h8.2M854.3 168.1h12.2M854.3 401.4h8.2M854.3 377.3h8.2M854.3 360.1h8.2M854.3 346.8h8.2M854.3 335.9h8.2M854.3 326.7h8.2M854.3 318.8h8.2M854.3 311.7h8.2M854.3 305.5h12.2M854.3 538.8h8.2M854.3 514.6h8.2M854.3 497.4h8.2M854.3 484.1h8.2M854.3 473.2h8.2M854.3 464h8.2M854.3 456.1h8.2M854.3 449.1h8.2M854.3 442.8h12.2M872.2 580.1v-6M890.2 580.1v-6M908.1 580.1v-6M926.1 580.1v-12M944 580.1v-6M961.9 580.1v-6M979.9 580.1v-6M997.8 580.1v-12M1015.8 580.1v-6M1033.7 580.1v-6M1051.6 580.1v-6M1069.6 580.1v-12M1087.5 580.1v-6M1105.4 580.1v-6M1123.4 580.1v-6M1141.3 580.1v-12M1159.3 580.1v-6"/>
<rect class="fr" x="854.3" y="30.8" width="322.9" height="549.3"/>
<text class="xl" transform="translate(926.1 622.1) scale(.96 1)">0.8</text>
<text class="xl" transform="translate(997.8 622.1) scale(.96 1)">1.0</text>
<text class="xl" transform="translate(1069.6 622.1) scale(.96 1)">1.2</text>
<text class="xl" transform="translate(1141.3 622.1) scale(.96 1)">1.4</text>
<text class="ttl" x="1015.9" y="20">PTAA-perovskite interface</text>
</g>
<g>
<path class="gr" d="M1177.2 168.1H1500.5"/>
<path class="gr" d="M1177.2 305.5H1500.5"/>
<path class="gr" d="M1177.2 442.8H1500.5"/>
<g clip-path="url(#cp3)">
<path class="c" stroke="#d2181f" d="M1185 592C1185.1 590 1185.4 585.5 1185.8 580.3C1186.2 575.1 1186.9 567.2 1187.4 561C1187.9 554.8 1188.4 549.8 1189 543C1189.6 536.2 1190.4 527.8 1191.1 520.5C1191.8 513.2 1192.4 506.6 1193.4 499C1194.4 491.4 1195.8 483.6 1197 475C1198.2 466.4 1199.5 455.8 1200.8 447.5C1202 439.2 1203 432.5 1204.5 425C1206 417.5 1207.8 408.8 1209.5 402.5C1211.2 396.2 1212.8 391.3 1214.5 387.5C1216.2 383.7 1217.8 381.5 1219.5 379.5C1221.2 377.5 1223 376.5 1224.5 375.8C1226 375 1226.8 374.8 1228.2 375C1229.7 375.2 1231.4 375.5 1233.2 376.8C1235.1 378 1237.2 379.9 1239.5 382.5C1241.8 385.1 1244.5 389 1247 392.5C1249.5 396 1252 400.2 1254.5 403.8C1257 407.3 1259.5 410.6 1262 413.8C1264.5 416.9 1267 419.8 1269.5 422.5C1272 425.2 1274.5 427.7 1277 430C1279.5 432.3 1282 434.2 1284.5 436.2C1287 438.3 1289.5 440.4 1292 442.5C1294.5 444.6 1297 446.7 1299.5 448.8C1302 450.8 1304.9 453.3 1307 455C1309.1 456.7 1310.7 457.9 1312 458.8C1313.3 459.6 1313.8 460.2 1315 460C1316.2 459.8 1317.9 459.2 1319.5 457.5C1321.1 455.8 1322.8 452.9 1324.5 450C1326.2 447.1 1327.8 443.7 1329.5 440C1331.2 436.3 1333.1 431.8 1334.5 428C1335.9 424.2 1336.8 419.3 1338 417C1339.2 414.7 1340.2 416.6 1341.5 414C1342.8 411.4 1344.4 406.1 1346 401.5C1347.6 396.9 1349.3 391.5 1351 386.5C1352.7 381.5 1354.3 375.9 1356 371.5C1357.7 367.1 1359.3 363.8 1361 360.2C1362.7 356.7 1364.3 353.4 1366 350.2C1367.7 347.1 1369.1 344.8 1371 341.5C1372.9 338.2 1375.2 334.2 1377.2 330.2C1379.3 326.3 1381.4 321.9 1383.5 317.8C1385.6 313.6 1387.7 309.4 1389.8 305.2C1391.8 301.1 1393.9 297.1 1396 292.8C1398.1 288.4 1400.2 283.2 1402.2 279C1404.3 274.8 1406.4 270.9 1408.5 267.8C1410.6 264.6 1412.8 262 1414.8 260.2C1416.8 258.5 1418.6 257.3 1420.5 257.2C1422.4 257.2 1424.2 258.6 1426 259.8C1427.8 260.9 1429.3 262.5 1431 264C1432.7 265.5 1434.5 267.4 1436 268.5C1437.5 269.6 1438.8 270.9 1440.2 270.8C1441.7 270.6 1443.6 269.7 1444.8 267.8C1445.9 265.8 1446.4 262.5 1447.2 259C1448.1 255.5 1449.2 249 1449.8 246.5C1450.2 244 1448.7 257.1 1450.2 244C1451.8 230.9 1455.5 203.5 1459 168C1462.5 132.5 1469 55.5 1471.2 31C1473.4 6.5 1471.9 22.7 1472 21"/>
<path class="c" stroke="#27a9e1" d="M1185.5 592C1185.7 590 1186.1 586 1186.7 580.3C1187.3 574.6 1188.2 565 1189 557.7C1189.8 550.4 1190.6 543.6 1191.4 536.6C1192.2 529.6 1193.1 521.9 1193.9 515.6C1194.7 509.3 1195.4 504.9 1196.2 499C1197 493.1 1197.7 487.3 1198.8 480C1199.9 472.7 1201.4 462.5 1202.8 455C1204.2 447.5 1205.5 441.2 1207 435C1208.5 428.8 1210.3 422.1 1212 417.5C1213.7 412.9 1215.3 410 1217 407.5C1218.7 405 1220.3 403.6 1222 402.5C1223.7 401.4 1225.3 400.8 1227 400.8C1228.7 400.8 1230.1 401.2 1232 402.5C1233.9 403.8 1236 405.8 1238.2 408.8C1240.5 411.7 1243.2 416 1245.8 420C1248.2 424 1250.8 428.5 1253.2 432.5C1255.8 436.5 1258.2 440 1260.8 443.8C1263.2 447.5 1265.8 451.2 1268.2 455C1270.8 458.8 1273.2 462.9 1275.8 466.2C1278.2 469.6 1281.2 472.9 1283.2 475C1285.3 477.1 1286.7 478 1288.2 478.8C1289.8 479.5 1291 479.8 1292.5 479.5C1294 479.2 1295.6 478.8 1297 477C1298.4 475.2 1299.5 472.8 1300.8 468.8C1302 464.7 1303.2 459 1304.5 452.5C1305.8 446 1307 437.1 1308.2 430C1309.5 422.9 1310.8 415.4 1312 410C1313.2 404.6 1314.3 401 1315.8 397.5C1317.2 394 1318.9 391.3 1320.8 388.8C1322.6 386.2 1325.3 383.5 1327 382C1328.7 380.5 1329.7 380.7 1331 380C1332.3 379.3 1333.5 379.2 1334.8 377.8C1336 376.3 1337.2 373 1338.5 371.5C1339.8 370 1341 370.6 1342.2 368.5C1343.5 366.4 1344.8 362.7 1346 359C1347.2 355.3 1348.5 350.5 1349.8 346.5C1351 342.5 1352 339 1353.5 335.2C1355 331.5 1356.8 327.3 1358.5 324C1360.2 320.7 1361.6 318.6 1363.5 315.2C1365.4 311.9 1367.7 307.8 1369.8 304C1371.8 300.2 1373.9 296.7 1376 292.8C1378.1 288.8 1380.2 284.2 1382.2 280.2C1384.3 276.3 1386.4 272 1388.5 269C1390.6 266 1392.7 263.7 1394.8 262C1396.8 260.3 1399.3 259.6 1401 259C1402.7 258.4 1403.3 258.2 1404.8 258.5C1406.2 258.8 1407.9 259.5 1409.8 261C1411.6 262.5 1413.9 265 1416 267.8C1418.1 270.5 1420.2 274.4 1422.2 277.8C1424.3 281.1 1426.4 284.6 1428.5 287.8C1430.6 290.9 1432.8 294.4 1434.8 296.5C1436.7 298.6 1439.9 300.2 1440.2 300.2C1440.6 300.2 1442.5 299 1443.5 296.5C1444.5 294 1445.6 289.8 1446.5 285.2C1447.4 280.7 1448.2 274.2 1449 269C1449.8 263.8 1450.5 258.2 1451 254C1451.5 249.8 1450.8 258.3 1452.2 244C1453.7 229.7 1456.2 203.5 1459.4 168C1462.6 132.5 1469.3 55.5 1471.4 31C1473.5 6.5 1472.1 22.7 1472.2 21"/>
<path class="c" stroke="#37b34d" d="M1189 592C1189.2 590 1189.6 585.5 1190.1 580.3C1190.6 575.1 1191.3 568.3 1192.2 561C1193.1 553.7 1194.4 544.4 1195.5 536.6C1196.6 528.8 1197.7 520.4 1198.7 514C1199.7 507.6 1200.5 503.7 1201.5 498C1202.5 492.3 1203.2 485.9 1204.5 480C1205.8 474.1 1207.8 467.5 1209.5 462.5C1211.2 457.5 1212.8 453.3 1214.5 450C1216.2 446.7 1218 444.3 1219.5 442.5C1221 440.7 1222 440 1223.2 439.2C1224.5 438.5 1225.5 438 1227 438C1228.5 438 1230.1 438.3 1232 439.5C1233.9 440.7 1236 442.2 1238.2 445C1240.5 447.8 1243.2 452.3 1245.8 456.2C1248.2 460.2 1251 465.3 1253.2 468.8C1255.5 472.2 1257.6 475.1 1259.5 477C1261.4 478.9 1263 479.4 1264.5 480C1266 480.6 1267 481 1268.2 480.8C1269.5 480.5 1270.5 480.5 1272 478.8C1273.5 477 1275.3 474.4 1277 470C1278.7 465.6 1280.5 458.8 1282 452.5C1283.5 446.2 1284.5 439.6 1285.8 432.5C1287 425.4 1288.2 417.1 1289.5 410C1290.8 402.9 1292 395.6 1293.2 390C1294.5 384.4 1295.5 380.2 1297 376.2C1298.5 372.3 1300.1 368.8 1302 366.2C1303.9 363.8 1306 362.3 1308.2 361.2C1310.5 360.2 1313 360.3 1315.8 360C1318.5 359.7 1322 359.7 1324.5 359.2C1327 358.8 1329.1 358.2 1331 357.5C1332.9 356.8 1334.3 356.7 1336 355.2C1337.7 353.8 1339.5 351.5 1341 349C1342.5 346.5 1343.5 343.4 1344.8 340.2C1346 337.1 1347 334.6 1348.5 330.2C1350 325.9 1351.8 319.2 1353.5 314C1355.2 308.8 1356.8 303.6 1358.5 299C1360.2 294.4 1361.6 290.3 1363.5 286.5C1365.4 282.7 1367.7 278.8 1369.8 276C1371.8 273.2 1373.9 271.2 1376 269.8C1378.1 268.2 1380.4 267.5 1382.2 267C1384.1 266.5 1385.6 266.3 1387.2 266.5C1388.9 266.7 1390.4 266.8 1392.2 268.2C1394.1 269.7 1396.4 272.2 1398.5 275.2C1400.6 278.3 1402.7 282.3 1404.8 286.5C1406.8 290.7 1408.9 295.7 1411 300.2C1413.1 304.8 1415.2 309.6 1417.2 314C1419.3 318.4 1421.4 322.5 1423.5 326.5C1425.6 330.5 1427.8 335 1429.8 337.8C1431.8 340.5 1435.1 342.7 1435.5 342.8C1435.9 342.8 1439.2 341.7 1440.5 339C1441.8 336.3 1442.5 332.3 1443.5 326.5C1444.5 320.7 1445.6 311.5 1446.5 304C1447.4 296.5 1448.2 289.4 1449 281.5C1449.8 273.6 1450.9 262.8 1451.5 256.5C1452.1 250.2 1451.4 258.8 1452.8 244C1454.1 229.2 1456.6 203.5 1459.7 168C1462.8 132.5 1469.4 55.5 1471.5 31C1473.6 6.5 1472.2 22.7 1472.3 21"/>
<path class="c" stroke="#5f1a6b" d="M1193 592C1193.3 590 1193.9 585.5 1194.7 580.3C1195.5 575.1 1196.7 567.5 1197.9 561C1199.1 554.5 1200.6 547.7 1201.9 541.5C1203.2 535.3 1204.5 529.6 1206 523.7C1207.5 517.8 1209.2 511.2 1210.8 505.9C1212.4 500.6 1213.8 496.4 1215.7 492C1217.6 487.6 1219.9 482.8 1222 479.5C1224.1 476.2 1226 474.6 1228.2 472.5C1230.5 470.4 1233.2 469.3 1235.8 467C1238.2 464.7 1241 462 1243.2 458.8C1245.5 455.5 1247.4 451.9 1249.5 447.5C1251.6 443.1 1253.7 438.1 1255.8 432.5C1257.8 426.9 1259.9 420.6 1262 413.8C1264.1 406.9 1266.4 398.1 1268.2 391.2C1270.1 384.4 1271.6 377.9 1273.2 372.5C1274.9 367.1 1276.6 362.3 1278.2 358.8C1279.9 355.2 1281.6 353 1283.2 351.2C1284.9 349.5 1286.8 348.6 1288.2 348C1289.7 347.4 1290.5 347.4 1292 347.5C1293.5 347.6 1294.9 347.9 1297 348.8C1299.1 349.6 1302 351.5 1304.5 352.5C1307 353.5 1309.5 354.5 1312 355C1314.5 355.5 1317 355.7 1319.5 355.5C1322 355.3 1325.1 354.4 1327 353.8C1328.9 353.1 1329.5 352.7 1331 351.5C1332.5 350.3 1334.3 348.4 1336 346.5C1337.7 344.6 1339.5 342.8 1341 340.2C1342.5 337.8 1343.5 334.6 1344.8 331.5C1346 328.4 1347.2 325.2 1348.5 321.5C1349.8 317.8 1351 313 1352.2 309C1353.5 305 1354.5 301.5 1356 297.8C1357.5 294 1359.3 289.4 1361 286.5C1362.7 283.6 1364.3 281.6 1366 280.2C1367.7 278.9 1369.3 278.4 1371 278.5C1372.7 278.6 1374.3 279.5 1376 281C1377.7 282.5 1379.1 284.5 1381 287.8C1382.9 291 1385.2 295.5 1387.2 300.2C1389.3 305 1391.4 310.9 1393.5 316.5C1395.6 322.1 1397.7 328.2 1399.8 334C1401.8 339.8 1403.9 345.7 1406 351.5C1408.1 357.3 1410.2 363.4 1412.2 369C1414.3 374.6 1416.4 380.2 1418.5 385.2C1420.6 390.2 1422.9 395.5 1424.8 399C1426.6 402.5 1428.5 405 1429.8 406.5C1431 408 1432 407.9 1432.2 407.8C1432.5 407.6 1434.8 407.1 1436 404C1437.2 400.9 1438.5 396.1 1439.8 389C1441 381.9 1442.2 372.3 1443.5 361.5C1444.8 350.7 1446.1 336.5 1447.2 324C1448.4 311.5 1449.5 297.3 1450.5 286.5C1451.5 275.7 1452.4 266.1 1453 259C1453.6 251.9 1453.1 259.2 1454.2 244C1455.4 228.8 1457.1 203.5 1460 168C1462.9 132.5 1469.5 55.5 1471.6 31C1473.7 6.5 1472.3 22.7 1472.4 21"/>
</g>
<path class="tk" d="M1177.2 126.8h6M1177.2 102.6h6M1177.2 85.4h6M1177.2 72.1h6M1177.2 61.3h6M1177.2 52.1h6M1177.2 44.1h6M1177.2 37.1h6M1177.2 264.1h6M1177.2 239.9h6M1177.2 222.8h6M1177.2 209.5h6M1177.2 198.6h6M1177.2 189.4h6M1177.2 181.4h6M1177.2 174.4h6M1177.2 168.1h12.2M1177.2 401.4h6M1177.2 377.3h6M1177.2 360.1h6M1177.2 346.8h6M1177.2 335.9h6M1177.2 326.7h6M1177.2 318.8h6M1177.2 311.7h6M1177.2 305.5h12.2M1177.2 538.8h6M1177.2 514.6h6M1177.2 497.4h6M1177.2 484.1h6M1177.2 473.2h6M1177.2 464h6M1177.2 456.1h6M1177.2 449.1h6M1177.2 442.8h12.2M1195.2 580.1v-6M1213.1 580.1v-6M1231.1 580.1v-6M1249 580.1v-12M1267 580.1v-6M1285 580.1v-6M1302.9 580.1v-6M1320.9 580.1v-12M1338.8 580.1v-6M1356.8 580.1v-6M1374.7 580.1v-6M1392.7 580.1v-12M1410.7 580.1v-6M1428.6 580.1v-6M1446.6 580.1v-6M1464.5 580.1v-12M1482.5 580.1v-6"/>
<rect class="fr" x="1177.2" y="30.8" width="323.2" height="549.3"/>
<text class="xl" transform="translate(1249 622.1) scale(.96 1)">0.8</text>
<text class="xl" transform="translate(1320.9 622.1) scale(.96 1)">1.0</text>
<text class="xl" transform="translate(1392.7 622.1) scale(.96 1)">1.2</text>
<text class="xl" transform="translate(1464.5 622.1) scale(.96 1)">1.4</text>
<text class="ttl" x="1339" y="20">Perovskite-PCBM interface</text>
</g>
<text class="yl" transform="translate(49.7 42.7) scale(.96 1)">10<tspan class="sup" dy="-12.8">-5</tspan></text>
<text class="yl" transform="translate(49.7 180) scale(.96 1)">10<tspan class="sup" dy="-12.8">-6</tspan></text>
<text class="yl" transform="translate(49.7 317.4) scale(.96 1)">10<tspan class="sup" dy="-12.8">-7</tspan></text>
<text class="yl" transform="translate(49.7 454.7) scale(.96 1)">10<tspan class="sup" dy="-12.8">-8</tspan></text>
<text class="yl" transform="translate(49.7 592) scale(.96 1)">10<tspan class="sup" dy="-12.8">-9</tspan></text>
<path class="c" stroke="#d2181f" d="M140.2 55.1H197.7"/>
<text class="lg" x="205.8" y="64.1">100 nm</text>
<path class="c" stroke="#27a9e1" d="M140.2 86.8H197.7"/>
<text class="lg" x="205.8" y="95.8">150 nm</text>
<path class="c" stroke="#37b34d" d="M140.2 118.5H197.7"/>
<text class="lg" x="205.8" y="127.5">200 nm</text>
<path class="c" stroke="#5f1a6b" d="M140.2 150.3H197.7"/>
<text class="lg" x="205.8" y="159.3">300 nm</text>
<text class="ax" x="687.6" y="671.3">Photon energy (eV)</text>
<text class="ax" style="font-size:39.75px" transform="translate(28.6 460.85) rotate(-90)">Normalized EQE (-)</text>
</svg>
</body></html>
